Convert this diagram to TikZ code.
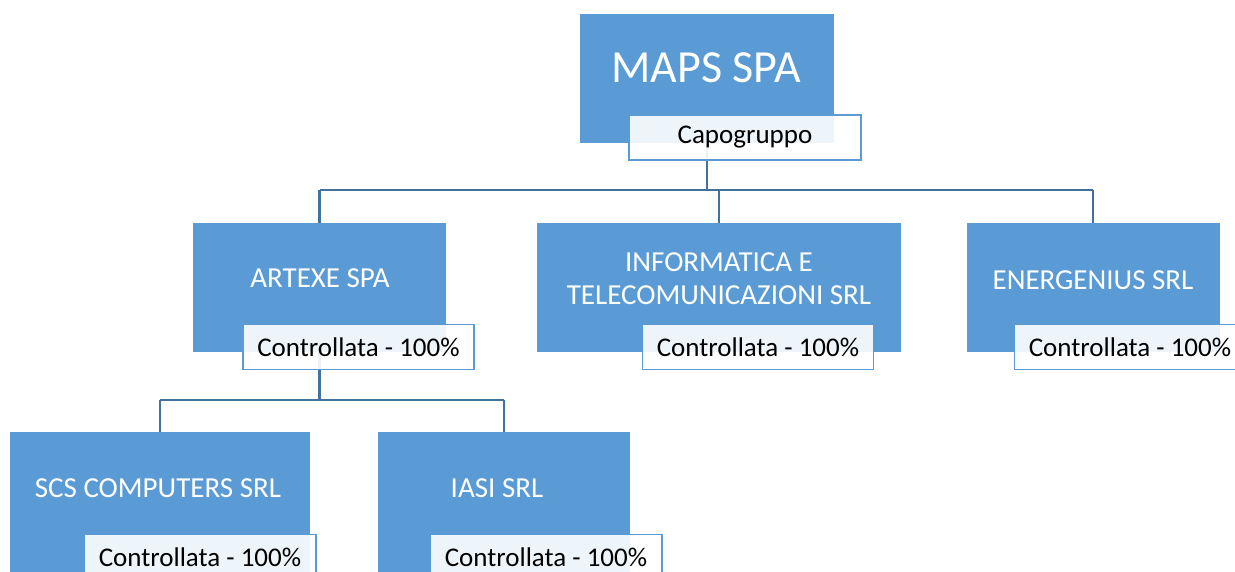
\documentclass[tikz,border=0pt]{standalone}
\usepackage{fontspec}
\setmainfont{Carlito}
\definecolor{boxblue}{HTML}{5B9BD5}
\definecolor{linkblue}{HTML}{41719C}
\tikzset{
  orgbox/.style={fill=boxblue, draw=none, inner sep=0pt, minimum height=129pt},
  boxtext/.style={text=white, align=center, inner sep=0pt, font=\fontsize{29}{33}\selectfont},
  tag/.style={draw=boxblue, line width=1.6pt, fill=white, fill opacity=0.9, text opacity=1,
    minimum width=231pt, minimum height=45pt, inner sep=0pt, font=\fontsize{27}{32}\selectfont},
  link/.style={draw=linkblue, line width=2.5pt}
}
\begin{document}
\begin{tikzpicture}[x=1pt,y=-1pt]
\useasboundingbox (0,0) rectangle (1235,571);
\clip (0,0) rectangle (1235,571);
% boxes
\node[orgbox, minimum width=254pt] (maps) at (707,78.5) {};
\node[orgbox, minimum width=253pt] (art) at (319.5,287.5) {};
\node[orgbox, minimum width=364pt] (info) at (719,287.5) {};
\node[orgbox, minimum width=253pt] (energ) at (1093,287.5) {};
\node[orgbox, minimum width=300pt, minimum height=150pt] (scs) at (160,507) {};
\node[orgbox, minimum width=252pt, minimum height=150pt] (iasi) at (504,507) {};
% box texts
\node[boxtext, font=\fontsize{46}{50}\selectfont] (mapst) at (706,68) {MAPS SPA};
\node[boxtext] (artt) at (320,278) {ARTEXE SPA};
\node[boxtext] (infot) at (719,279) {INFORMATICA E\\TELECOMUNICAZIONI SRL};
\node[boxtext] (energt) at (1093,280) {ENERGENIUS SRL};
\node[boxtext] (scst) at (158,488) {SCS COMPUTERS SRL};
\node[boxtext] (iasit) at (497,488) {IASI SRL};
% connectors
\coordinate (bus1) at (0,190);
\coordinate (bus2) at (0,400);
\draw[link] (maps.south) -- (maps.south |- bus1);
\draw[link] (art.north |- bus1) -- (energ.north |- bus1);
\draw[link] (art.north |- bus1) -- (art.north);
\draw[link] (info.north |- bus1) -- (info.north);
\draw[link] (energ.north |- bus1) -- (energ.north);
\draw[link] (art.south) -- (art.south |- bus2);
\draw[link] (scs.north |- bus2) -- (iasi.north |- bus2);
\draw[link] (scs.north |- bus2) -- (scs.north);
\draw[link] (iasi.north |- bus2) -- (iasi.north);
% tags
\node[tag, minimum width=232pt] (capt) at (745,137.5) {Capogruppo};
\node[tag] (artg) at (358.5,347) {Controllata - 100\%};
\node[tag] (infog) at (758,347) {Controllata - 100\%};
\node[tag] (energg) at (1130,347) {Controllata - 100\%};
\node[tag, minimum width=232pt] (scsg) at (200,557) {Controllata - 100\%};
\node[tag, minimum width=232pt] (iasig) at (546,557) {Controllata - 100\%};
\end{tikzpicture}
\end{document}
